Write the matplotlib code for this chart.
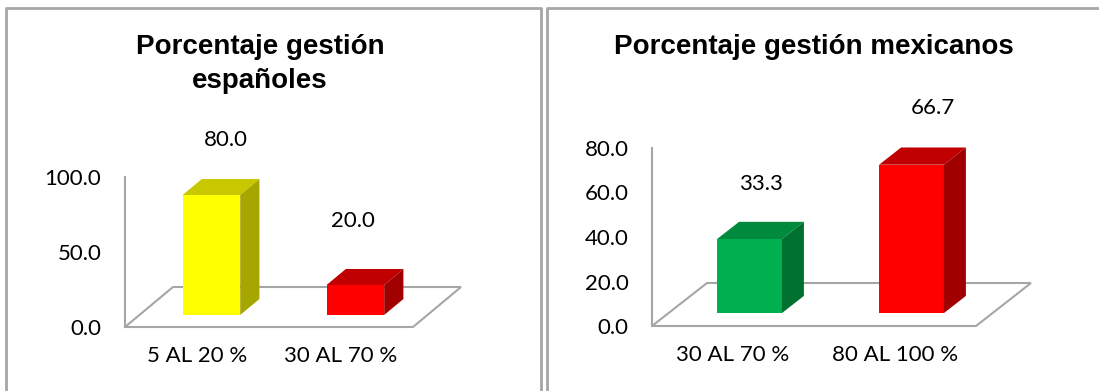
import matplotlib.pyplot as plt
from matplotlib.patches import Polygon
from matplotlib.lines import Line2D

# data
esp_categories = ["5 AL 20 %", "30 AL 70 %"]
esp_values = [80.0, 20.0]
esp_ticks = [0, 50, 100]

mex_categories = ["30 AL 70 %", "80 AL 100 %"]
mex_values = [33.3, 66.7]
mex_ticks = [0, 20, 40, 60, 80]

W, H = 1099, 391
GRID = "#A6A6A6"
TICK_FONT = "Lato"
TITLE_FONT = "Liberation Sans"
FS = 16

plt.rcParams["font.family"] = [TICK_FONT, "DejaVu Sans"]

fig = plt.figure(figsize=(W / 100, H / 100), dpi=100)
fig.patch.set_facecolor("white")


def px_axes(left, right, y0, ytop):
    """Axes placed by pixel box: x from left..right, value 0 at y0, max at ytop."""
    return fig.add_axes([left / W, (H - y0) / H, (right - left) / W, (y0 - ytop) / H])


def px_to_data(ax, dx, dy):
    x0, y0 = ax.transData.transform((0, 0))
    x1, y1 = ax.transData.transform((1, 1))
    return dx / (x1 - x0), dy / (y1 - y0)


def bar3d_chart(ax, cats, vals, ticks, colors, floor_px, label_offsets):
    n = len(cats)
    ax.set_xlim(0, n)
    ax.set_ylim(0, ticks[-1])
    ax.set_facecolor("none")
    for s in ["top", "right", "bottom"]:
        ax.spines[s].set_visible(False)
    ax.spines["left"].set_color(GRID)
    ax.spines["left"].set_linewidth(1.5)
    ax.set_yticks(ticks, [f"{t:.1f}" for t in ticks])
    ax.set_xticks([i + 0.5 for i in range(n)], cats)
    ax.tick_params(axis="y", length=0, pad=17, labelsize=FS)
    ax.tick_params(axis="x", length=0, pad=14, labelsize=FS)

    fdx, fdy = px_to_data(ax, *floor_px)
    # floor parallelogram
    floor = Polygon([(0, 0), (n, 0), (n + fdx, fdy), (fdx, fdy)], closed=True,
                    facecolor="white", edgecolor=GRID, lw=1.5, clip_on=False, zorder=1)
    ax.add_patch(floor)

    width = 0.4
    sx, sy = 0.3 * fdx, 0.3 * fdy      # bar front plane inside the floor
    bdx, bdy = 0.4 * fdx, 0.4 * fdy    # bar depth
    centers = [i + 0.5 for i in range(n)]
    fronts = ax.bar([c + sx for c in centers], vals, width, bottom=sy,
                    color=[c[0] for c in colors], clip_on=False, zorder=3)
    for rect, v, (front, top, side) in zip(fronts, vals, colors):
        x0 = rect.get_x()
        x1 = x0 + rect.get_width()
        b = rect.get_y()
        t = b + v
        ax.add_patch(Polygon([(x0, t), (x1, t), (x1 + bdx, t + bdy), (x0 + bdx, t + bdy)],
                             closed=True, facecolor=top, edgecolor="none",
                             clip_on=False, zorder=3))
        ax.add_patch(Polygon([(x1, b), (x1 + bdx, b + bdy), (x1 + bdx, t + bdy), (x1, t)],
                             closed=True, facecolor=side, edgecolor="none",
                             clip_on=False, zorder=3))

    for c, v, off in zip(centers, vals, label_offsets):
        ax.annotate(f"{v:.1f}", xy=(c, v), xytext=off, textcoords="offset pixels",
                    ha="center", va="center", fontsize=FS, annotation_clip=False)


yellow = ("#FFFF00", "#C8C800", "#A6A600")
red = ("#FF0000", "#C00000", "#A00000")
green = ("#00B050", "#008A3E", "#007030")

ax1 = px_axes(125, 413, 327, 177)
bar3d_chart(ax1, esp_categories, esp_values, esp_ticks, [yellow, red],
            (48, 40), [(29, 67), (12, 76)])

ax2 = px_axes(652, 976, 326, 148)
bar3d_chart(ax2, mex_categories, mex_values, mex_ticks, [green, red],
            (55, 43), [(28, 68), (38, 70)])

# titles
fig.text(260 / W, 1 - 64 / H, "Porcentaje gestión\nespañoles", ha="center", va="center",
         fontsize=20, fontweight="bold", family=TITLE_FONT, linespacing=1.36)
fig.text(814 / W, 1 - 47 / H, "Porcentaje gestión mexicanos", ha="center", va="center",
         fontsize=20, fontweight="bold", family=TITLE_FONT)

# chart frames
def frame_line(xs, ys):
    fig.add_artist(Line2D([x / W for x in xs], [1 - y / H for y in ys],
                          color=GRID, lw=2, transform=fig.transFigure))

frame_line([6, 6, 541, 541], [400, 8, 8, 400])
frame_line([547, 547, 1110], [400, 8, 8])

fig.savefig("out.png", dpi=100, facecolor="white")
